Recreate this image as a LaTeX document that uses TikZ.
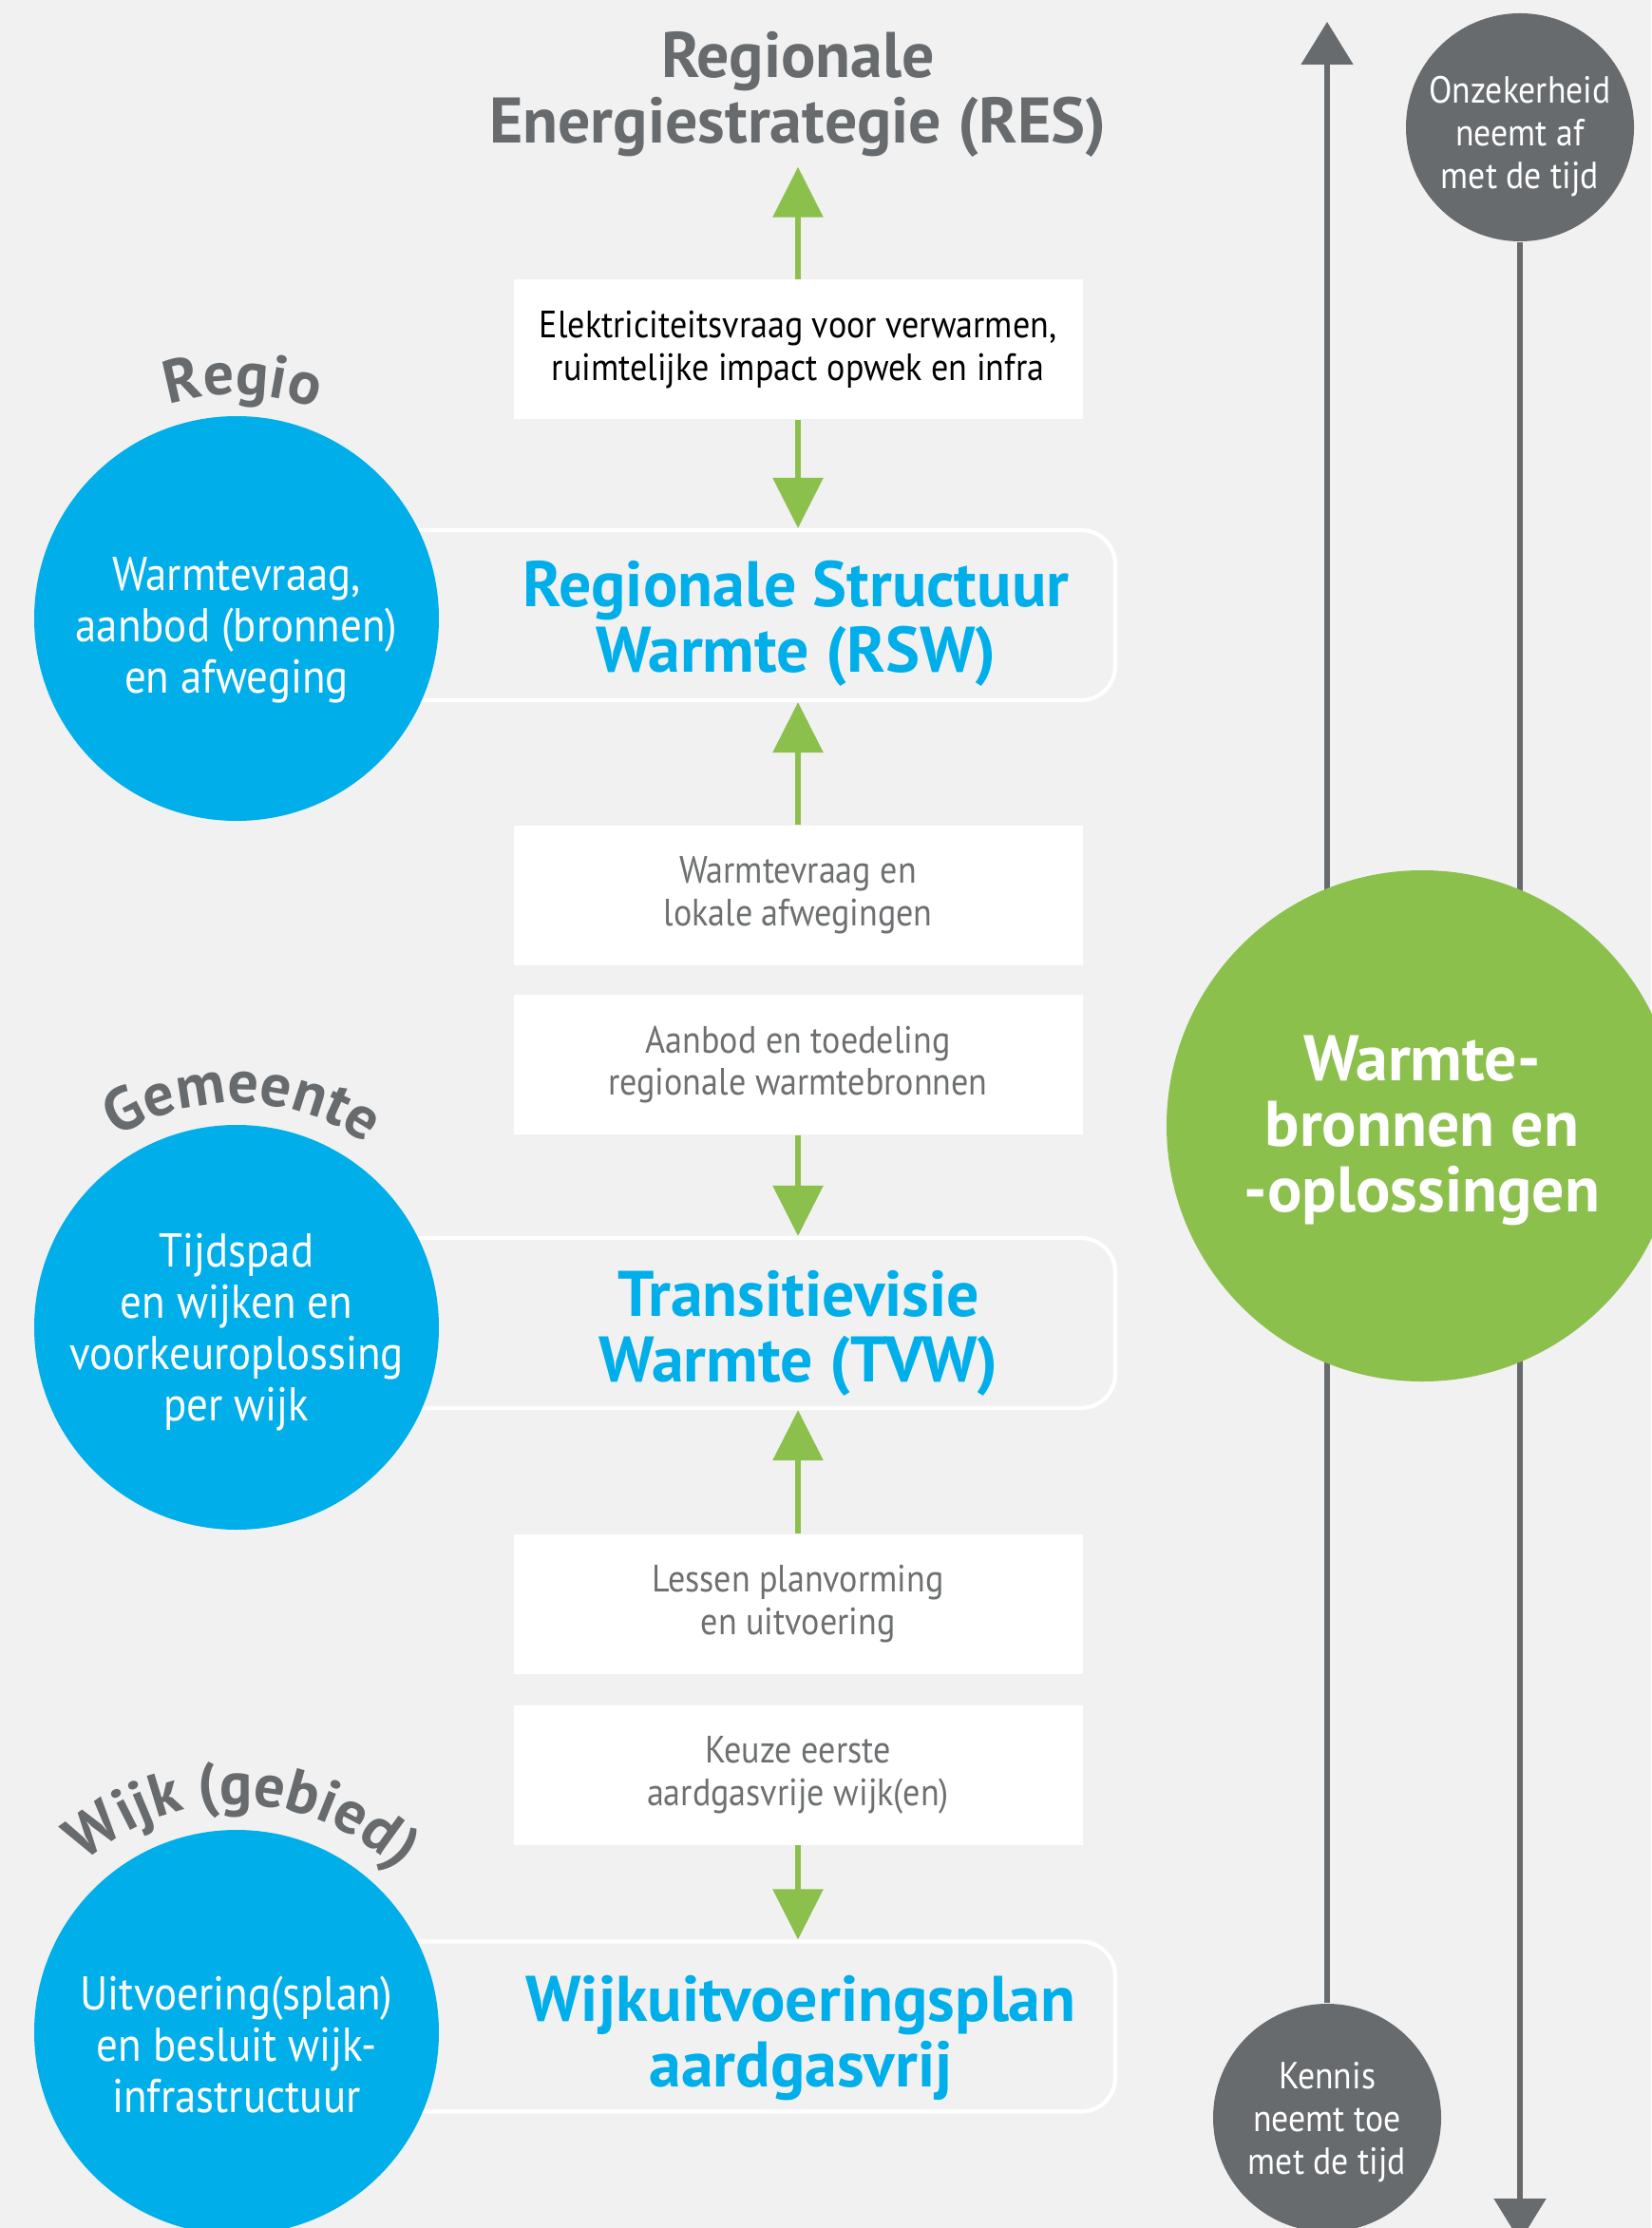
\documentclass[tikz,border=0pt]{standalone}
\usepackage{xcolor}
\usepackage{fontspec}
\setmainfont{PT Sans}
\newfontfamily\tekstfont{PT Sans}[FakeStretch=0.9]
\usetikzlibrary{arrows.meta,shapes,positioning,calc,decorations.text}

\definecolor{achtergrond}{HTML}{F1F1F1}
\definecolor{blauw}{HTML}{00AEEA}
\definecolor{groen}{HTML}{8CC04D}
\definecolor{grijs}{HTML}{676B6E}
\definecolor{tekstgrijs}{HTML}{6D6F71}

\begin{document}
\begin{tikzpicture}[
        infobox/.style={fill=white, minimum width=5.99cm, minimum height=1.47cm, align=center, text=tekstgrijs, font=\tekstfont\fontsize{11.4}{12.8}\selectfont},
        kader/.style={draw=white, line width=1.2pt, rounded corners=0.36cm, minimum width=8.44cm, minimum height=1.79cm},
        kop/.style={align=center, text=blauw, font=\fontsize{19.3}{19.6}\selectfont\bfseries},
        bol/.style={circle, fill=blauw, minimum size=4.26cm, inner sep=0pt},
        boltekst/.style={align=center, text=white, font=\tekstfont\fontsize{14.2}{15.4}\selectfont},
        tijdbol/.style={circle, fill=grijs, minimum size=2.40cm, inner sep=0pt},
        tijdtekst/.style={align=center, text=white, font=\tekstfont\fontsize{11.3}{12.8}\selectfont},
        pijl/.style={color=groen, line width=1.7pt, -{Triangle[width=0.52cm,length=0.53cm]}},
        tijdlijn/.style={color=grijs, line width=1.5pt, -{Triangle[width=0.54cm,length=0.45cm]}},
        boog/.style={decorate, decoration={text along path, text align=center, text color=grijs, text={|\fontsize{18.2}{20}\selectfont\bfseries|#1}}}
    ]
        \fill[achtergrond] (0,0) rectangle (17.38,-23.45);
        \useasboundingbox (0,0) rectangle (17.38,-23.45);

        \node[align=center, text=grijs, inner sep=0.1cm, font=\fontsize{19.3}{19.6}\selectfont\bfseries] (res) at (8.40,-0.99) {Regionale\\Energiestrategie (RES)};

        \node[infobox, text=black] (elec) at (8.40,-3.68) {Elektriciteitsvraag voor verwarmen,\\ruimtelijke impact opwek en infra};
        \node[infobox] (vraag) at (8.40,-9.425) {Warmtevraag en\\lokale afwegingen};
        \node[infobox] (aanbod) at (8.40,-11.205) {Aanbod en toedeling\\regionale warmtebronnen};
        \node[infobox] (lessen) at (8.40,-16.885) {Lessen planvorming\\en uitvoering};
        \node[infobox] (keuze) at (8.40,-18.68) {Keuze eerste\\aardgasvrije wijk(en)};

        \node[kader] (rsw) at (7.52,-6.475) {};
        \node[kader] (tvw) at (7.52,-13.925) {};
        \node[kader] (wup) at (7.52,-21.33) {};

        \node[kop] (rswtitel) at (8.38,-6.56) {Regionale Structuur\\Warmte (RSW)};
        \node[kop] (tvwtitel) at (8.41,-14.03) {Transitievisie\\Warmte (TVW)};
        \node[kop] (wuptitel) at (8.43,-21.45) {Wijkuitvoeringsplan\\aardgasvrij};

        \draw[pijl] (elec) -- (res);
        \draw[pijl] (elec) -- (elec |- rsw.north);
        \draw[pijl] (vraag) -- (vraag |- rsw.south);
        \draw[pijl] (aanbod) -- (aanbod |- tvw.north);
        \draw[pijl] (lessen) -- (lessen |- tvw.south);
        \draw[pijl] (keuze) -- (keuze |- wup.north);

        \node[bol] (regio) at (2.49,-6.51) {};
        \node[bol] (gemeente) at (2.49,-13.97) {};
        \node[bol] (wijk) at (2.49,-21.39) {};
        \node[boltekst] (regiotekst) at (2.49,-6.63) {Warmtevraag,\\aanbod (bronnen)\\en afweging};
        \node[boltekst] (gemeentetekst) at (2.49,-14.02) {Tijdspad\\en wijken en\\voorkeuroplossing\\per wijk};
        \node[boltekst] (wijktekst) at (2.49,-21.52) {Uitvoering(splan)\\en besluit wijk-\\infrastructuur};

        \path[boog=Regio] ($(regio.center)+(158.5:2.36)$) arc[start angle=158.5, end angle=18.5, radius=2.36];
        \path[boog=Gemeente] ($(gemeente.center)+(158.5:2.36)$) arc[start angle=158.5, end angle=18.5, radius=2.36];
        \path[boog=Wijk (gebied)] ($(wijk.center)+(168.5:2.40)$) arc[start angle=168.5, end angle=8.5, radius=2.40];

        \node[tijdbol] (onzeker) at (16.00,-1.34) {};
        \node[tijdbol] (kennis) at (13.97,-22.29) {};
        \node[tijdtekst] (onzekertekst) at (16.00,-1.44) {Onzekerheid\\neemt af\\met de tijd};
        \node[tijdtekst] (kennistekst) at (13.97,-22.34) {Kennis\\neemt toe\\met de tijd};
        \coordinate (boven) at (13.97,-0.23);
        \coordinate (onder) at (16.00,-23.59);
        \draw[tijdlijn] (kennis) -- (boven);
        \draw[tijdlijn] (onzeker) -- (onder);

        \node[circle, fill=groen, minimum size=5.38cm, inner sep=0pt] (bronnen) at (14.97,-11.85) {};
        \node[align=center, text=white, font=\fontsize{19.3}{19.6}\selectfont\bfseries] (bronnentekst) at (14.97,-11.90) {Warmte-\\bronnen en\\-oplossingen};
    \end{tikzpicture}
\end{document}
